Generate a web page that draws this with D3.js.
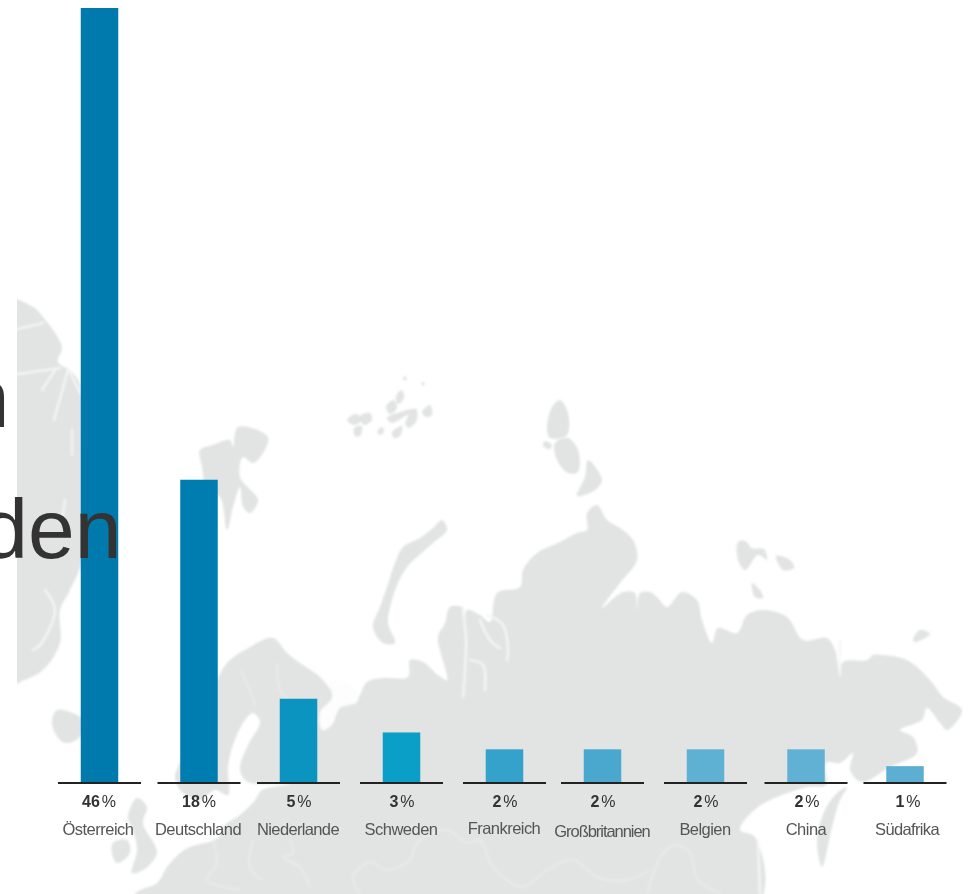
<!DOCTYPE html>
<html lang="de">
<head>
<meta charset="utf-8">
<title>Anteile nach Ländern</title>
<script src="https://cdn.jsdelivr.net/npm/d3@7/dist/d3.min.js"></script>
<style>
  html, body { margin: 0; padding: 0; background: #fff; }
  svg { display: block; font-family: "Liberation Sans", Arial, sans-serif; }
</style>
</head>
<body>
<svg id="chart" width="971" height="894"></svg>
<script>
// Chart data
const categories = ["Österreich", "Deutschland", "Niederlande", "Schweden", "Frankreich", "Großbritannien", "Belgien", "China", "Südafrika"];
const shares = [46, 18, 5, 3, 2, 2, 2, 2, 1];
const barColors = ["#0079ac", "#007db0", "#0a94bf", "#0a9fc6", "#35a2cb", "#4aa8ce", "#5fb1d3", "#60b1d3", "#5cafd2"];

// Layout of the row of columns
const slotCenters = [99.5, 199, 298.5, 401.5, 504.5, 602.5, 705.5, 806, 905];
const labelCenters = [98, 198, 298, 401, 504, 602, 705, 806, 907];
const labelBaselines = [835, 835, 835, 835, 834, 837, 835, 835, 835];
const labelTracking = [-0.5, -0.5, -0.65, -0.5, -0.55, -1.05, -0.55, -0.5, -0.65];
const barWidth = 37.5, ruleWidth = 83, baseline = 783, topEdge = 8;

// Grey backdrop map: outlines in page pixels
const mainland = [[320,677],[333,692],[350,703],[357,700],[367,682],[383,678],[408,677],[410,660],[423,662],[438,675],[447,680],[438,637],[445,623],[450,607],[463,608],[465,630],[467,610],[480,615],[490,622],[497,593],[520,587],[523,570],[537,553],[560,542],[577,533],[587,530],[587,513],[597,505],[607,520],[620,528],[633,540],[637,560],[620,583],[602,608],[623,592],[635,593],[637,610],[640,593],[650,592],[657,597],[667,607],[682,592],[697,600],[702,620],[712,643],[718,628],[737,633],[747,615],[763,610],[787,617],[803,640],[827,638],[835,650],[840,675],[843,662],[867,660],[873,655],[883,655],[907,660],[930,680],[943,697],[962,710],[947,730],[940,723],[927,708],[922,720],[900,730],[913,737],[917,753],[890,767],[862,782],[850,770],[853,753],[840,763],[826,763],[826,785],[807,787],[758,807],[740,830],[755,837],[757,905],[130,905],[137,892],[157,883],[167,867],[180,853],[190,847],[218,838],[225,825],[240,815],[255,800],[262,790],[290,784],[248,782],[240,770],[248,745],[260,722],[253,713],[245,720],[233,745],[228,767],[228,795],[215,790],[200,800],[180,790],[175,775],[178,767],[190,735],[217,680],[227,663],[250,647],[273,638],[287,653],[300,663]];
const landmasses = [
  [[5,300],[33,307],[43,317],[62,347],[58,362],[72,372],[80,385],[82,420],[82,560],[70,590],[60,610],[60,643],[43,670],[18,683],[5,690]],
  [[52,720],[57,710],[70,712],[83,720],[80,737],[65,743],[55,733]],
  [[137,798],[147,807],[143,823],[157,853],[143,870],[132,873],[137,850],[133,830],[128,817]],
  [[113,843],[127,840],[130,853],[117,863],[112,853]],
  [[200,450],[213,445],[230,440],[233,447],[238,427],[268,437],[263,453],[253,463],[243,457],[240,477],[258,500],[250,513],[243,507],[240,487],[233,507],[227,530],[220,497],[207,490],[202,467]],
  [[442,520],[447,530],[433,543],[417,557],[407,567],[398,583],[392,600],[388,623],[395,643],[383,643],[373,627],[380,607],[387,587],[395,563],[403,547],[420,538],[433,528]],
  [[560,400],[568,413],[567,435],[550,438],[547,427],[552,407]],
  [[568,438],[578,450],[578,472],[568,473],[557,460],[555,443]],
  [[588,460],[602,480],[595,490],[577,496],[585,477]],
  [[545,441],[552,445],[550,449],[543,446]],
  [[738,542],[745,541],[752,548],[764,549],[767,560],[758,555],[745,570],[738,560]],
  [[776,556],[790,560],[794,568],[783,570]],
  [[752,583],[760,590],[763,598],[755,597]],
  [[913,640],[920,630],[930,634],[915,642]],
  [[847,787],[840,800],[833,823],[822,867],[817,840],[825,810],[837,793]],
  // Franz-Josef-Land as a scatter of small islands
  [[347,420],[356,414],[362,420],[354,425]], [[360,416],[370,413],[372,420],[364,425]],
  [[354,428],[362,426],[360,436],[355,436]], [[378,430],[383,427],[383,434],[378,434]],
  [[386,406],[394,400],[397,408],[390,414]], [[396,396],[402,390],[404,398],[398,404]],
  [[387,418],[397,413],[417,409],[412,420],[405,425],[408,415],[392,423]],
  [[406,420],[417,412],[416,422],[408,428]], [[392,432],[402,426],[400,436],[394,438]],
  [[422,412],[430,405],[432,415],[426,417]], [[403,378],[406,376],[406,381]], [[421,383],[424,382],[424,386]]
];
// Pale inland seas, fjords and river mouths cut over the land
const waterCuts = [
  [[5,332],[43,323]], [[5,376],[60,368]], [[42,390],[55,370]], [[54,420],[68,370]], [[80,393],[68,368]],
  [[72,430],[72,455]], [[65,500],[62,520]], [[45,590],[55,610],[40,645],[33,650]],
  [[463,610],[466,640],[465,670],[463,697]], [[480,620],[490,640],[500,648]], [[487,615],[503,625],[508,650],[507,660]],
  [[470,660],[483,665],[485,690]], [[840,640],[840,675]], [[758,840],[760,894]]
];
const whiteSea = [[330,680],[356,690],[357,702],[340,708],[332,725],[322,730],[320,712],[332,698]];
const borders = [
  [[240,670],[250,690],[255,705]], [[277,663],[280,690],[292,705],[300,730]],
  [[213,840],[217,863],[207,880],[240,890]], [[253,840],[250,867],[262,880]],
  [[290,840],[293,853],[283,857],[300,867],[310,887]],
  [[360,894],[353,877],[370,862],[387,870],[410,860],[417,843],[447,830],[467,843],[480,840],[493,867],[523,887],[547,870],[573,860],[597,877],[627,880],[650,870]],
  [[647,893],[663,853],[677,845],[690,853],[698,880],[720,893]]
];

const svg = d3.select("#chart");
const defs = svg.append("defs");
defs.append("filter").attr("id", "soft-map").append("feGaussianBlur").attr("stdDeviation", 0.8);
defs.append("filter").attr("id", "soft-text").append("feGaussianBlur").attr("stdDeviation", 0.35);
// The backdrop map is cut by a hard vertical edge on its left
defs.append("clipPath").attr("id", "map-window").append("rect")
  .attr("x", 17).attr("y", 0).attr("width", 954).attr("height", 894);

// Scales
const y = d3.scaleLinear().domain([0, d3.max(shares)]).range([baseline, topEdge]);
const x = d3.scaleOrdinal().domain(categories).range(slotCenters);
const color = d3.scaleOrdinal().domain(categories).range(barColors);
const labelX = d3.scaleOrdinal().domain(categories).range(labelCenters);
const labelY = d3.scaleOrdinal().domain(categories).range(labelBaselines);
const tracking = d3.scaleOrdinal().domain(categories).range(labelTracking);

// Backdrop map
const coast = d3.line().curve(d3.curveCatmullRomClosed.alpha(0.5));
const stroke = d3.line().curve(d3.curveCatmullRom.alpha(0.5));
const map = svg.append("g").attr("clip-path", "url(#map-window)")
  .append("g").attr("filter", "url(#soft-map)");
map.selectAll("path.land").data([mainland, ...landmasses]).join("path")
  .attr("class", "land").attr("d", coast).attr("fill", "#e2e3e3");
map.append("path").attr("d", coast(whiteSea)).attr("fill", "#fdfdfd");
map.selectAll("path.water").data(waterCuts).join("path")
  .attr("class", "water").attr("d", stroke).attr("fill", "none")
  .attr("stroke", "#f6f6f6").attr("stroke-width", 2.2).attr("stroke-linecap", "round");
map.selectAll("path.border").data(borders).join("path")
  .attr("class", "border").attr("d", stroke).attr("fill", "none")
  .attr("stroke", "#ececec").attr("stroke-width", 1.4);

const rows = categories.map((name, i) => ({ name, share: shares[i] }));

// Columns
svg.append("g").selectAll("rect").data(rows).join("rect")
  .attr("x", d => x(d.name) - barWidth / 2)
  .attr("width", barWidth)
  .attr("y", d => y(d.share))
  .attr("height", d => baseline - y(d.share))
  .attr("fill", d => color(d.name));

// Short baseline under each column
svg.append("g").selectAll("line").data(rows).join("line")
  .attr("x1", d => x(d.name) - ruleWidth / 2)
  .attr("x2", d => x(d.name) + ruleWidth / 2)
  .attr("y1", baseline).attr("y2", baseline)
  .attr("stroke", "#222").attr("stroke-width", 2);

// Share and country labels
const text = svg.append("g").attr("filter", "url(#soft-text)").attr("text-anchor", "middle");
const values = text.selectAll("text.value").data(rows).join("text")
  .attr("class", "value")
  .attr("x", d => labelX(d.name) + 1)
  .attr("y", 807)
  .attr("font-size", 16)
  .attr("fill", "#333");
values.append("tspan").attr("font-weight", "bold").text(d => d.share);
values.append("tspan").attr("dx", 2).text("%");

text.selectAll("text.name").data(rows).join("text")
  .attr("class", "name")
  .attr("x", d => labelX(d.name))
  .attr("y", d => labelY(d.name))
  .attr("font-size", 16.5)
  .attr("letter-spacing", d => tracking(d.name))
  .attr("fill", "#555")
  .text(d => d.name);

// Oversized heading text running off the left edge
const heading = svg.append("g").attr("font-size", 84).attr("fill", "#333").attr("text-anchor", "end");
heading.append("text").attr("x", 9.5).attr("y", 427).text("n");
heading.append("text").attr("x", 121.5).attr("y", 558).text("den");
</script>
</body>
</html>
